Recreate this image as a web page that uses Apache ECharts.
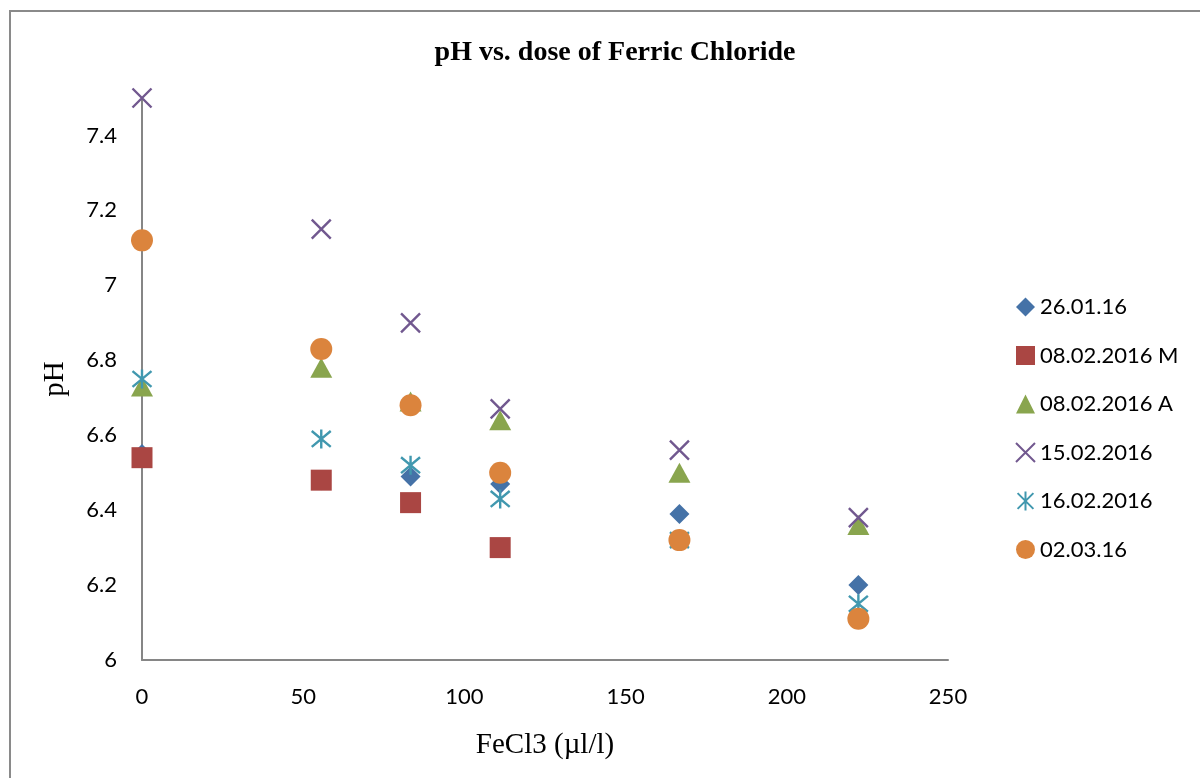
<!DOCTYPE html>
<html><head><meta charset="utf-8">
<script src="https://cdn.jsdelivr.net/npm/echarts@6/dist/echarts.min.js"></script>
<style>html,body{margin:0;padding:0;background:#fff}#c{width:1200px;height:778px}</style>
</head><body><div id="c"></div>
<script>
const doses = [0, 55.6, 83.3, 111.1, 166.7, 222.2];
const s260116 = [6.55, 6.48, 6.49, 6.47, 6.39, 6.20];
const s080216M = [6.54, 6.48, 6.42, 6.30];
const s080216A = [6.73, 6.78, 6.69, 6.64, 6.50, 6.36];
const s150216 = [7.50, 7.15, 6.90, 6.67, 6.56, 6.38];
const s160216 = [6.75, 6.59, 6.52, 6.43, 6.32, 6.15];
const s020316 = [7.12, 6.83, 6.68, 6.50, 6.32, 6.11];
const names = ['26.01.16', '08.02.2016 M', '08.02.2016 A', '15.02.2016', '16.02.2016', '02.03.16'];
const yTicks = [6, 6.2, 6.4, 6.6, 6.8, 7, 7.2, 7.4];

const crossPath = 'path://M0 0L10 10M10 0L0 10';
const starPath = 'path://M0 0L10 10M10 0L0 10M5 -1L5 11';

function pts(vals){ return vals.map((v,i)=>[doses[i], v]); }

const seriesDefs = [
  {name: names[0], data: s260116, symbol: 'diamond', size: [20,20], color: '#4572A7'},
  {name: names[1], data: s080216M, symbol: 'rect', size: [21,21], color: '#AA4643'},
  {name: names[2], data: s080216A, symbol: 'triangle', size: [22,20], color: '#89A54E'},
  {name: names[3], data: s150216, symbol: crossPath, size: [19,19], color: '#71588F', stroke: true},
  {name: names[4], data: s160216, symbol: starPath, size: [19,19], color: '#4198AF', stroke: true},
  {name: names[5], data: s020316, symbol: 'circle', size: [22,22], color: '#DB843D'}
];

const chart = echarts.init(document.getElementById('c'), null, {renderer: 'canvas'});
chart.setOption({
  backgroundColor: '#fff',
  animation: false,
  title: {
    text: 'pH vs. dose of Ferric Chloride',
    left: 610, top: 34, textAlign: 'center',
    textStyle: {fontFamily: 'Liberation Serif', fontWeight: 'bold', fontSize: 28, color: '#000'}
  },
  grid: {left: 142, right: 252, top: 98, bottom: 118, containLabel: false},
  legend: {
    orient: 'vertical', left: 1010, top: 291, itemGap: 26.5, itemWidth: 19, itemHeight: 19,
    textStyle: {fontFamily: 'Lato', fontSize: 22, color: '#000'},
    data: names
  },
  xAxis: {
    type: 'value', min: 0, max: 250, interval: 50,
    name: 'FeCl3 (µl/l)', nameLocation: 'middle', nameGap: 71,
    nameTextStyle: {fontFamily: 'Liberation Serif', fontSize: 29, color: '#000'},
    axisLine: {show: true, lineStyle: {color: '#868686', width: 2}},
    axisTick: {show: false},
    splitLine: {show: false},
    axisLabel: {fontFamily: 'Lato', fontSize: 22, color: '#000', margin: 26}
  },
  yAxis: {
    type: 'value', min: 6, max: 7.5, interval: 0.2,
    name: 'pH', nameLocation: 'middle', nameGap: 72, nameRotate: 90,
    nameTextStyle: {fontFamily: 'Liberation Serif', fontSize: 29, color: '#000'},
    axisLine: {show: true, lineStyle: {color: '#868686', width: 2}},
    axisTick: {show: false},
    splitLine: {show: false},
    axisLabel: {
      fontFamily: 'Lato', fontSize: 22, color: '#000', margin: 25,
      formatter: function(v){ return yTicks.some(t => Math.abs(t - v) < 1e-6) ? String(+v.toFixed(1)) : ''; }
    }
  },
  series: seriesDefs.map(d => ({
    name: d.name, type: 'scatter', data: pts(d.data),
    symbol: d.symbol, symbolSize: d.size,
    itemStyle: d.stroke ? {color: 'rgba(0,0,0,0)', borderColor: d.color, borderWidth: 2.4, opacity: 1} : {color: d.color, opacity: 1},
    emphasis: {disabled: true}
  })),
  graphic: [
    {type: 'polyline', shape: {points: [[10, 778], [10, 11], [1200, 11]]}, style: {stroke: '#8a8a8a', lineWidth: 2, fill: null}, silent: true}
  ]
});
</script></body></html>
